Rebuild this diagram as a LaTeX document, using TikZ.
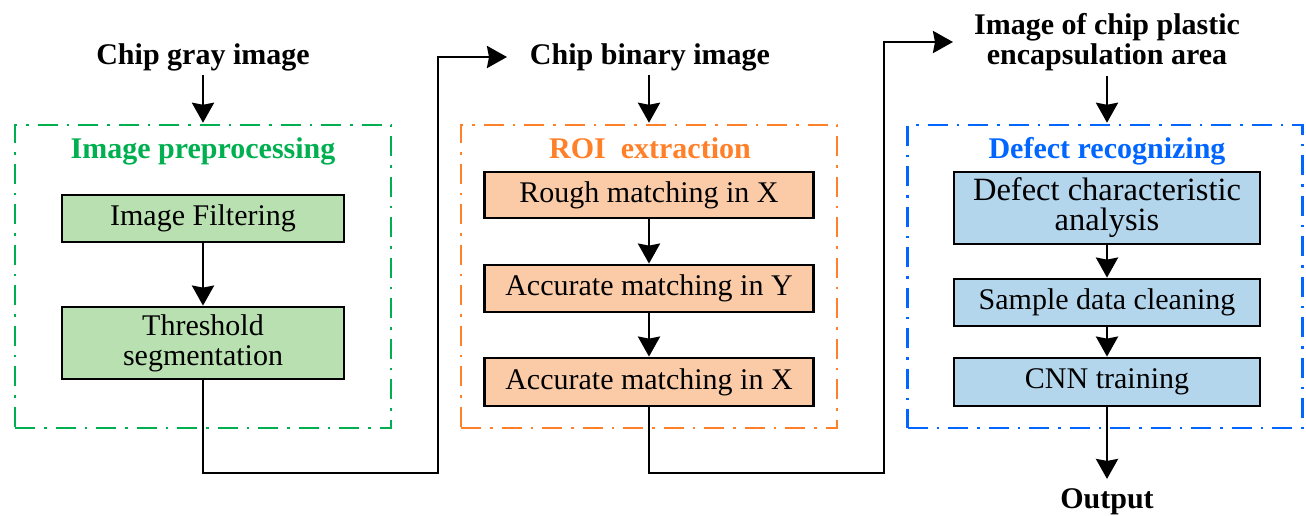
\documentclass[tikz,border=0pt]{standalone}
\usepackage{fontspec}
\setmainfont{Liberation Serif}
\usetikzlibrary{arrows.meta}

\definecolor{grnline}{RGB}{0,176,80}
\definecolor{grnfill}{RGB}{185,224,176}
\definecolor{orgline}{RGB}{255,128,40}
\definecolor{orgfill}{RGB}{251,203,167}
\definecolor{bluline}{RGB}{0,102,255}
\definecolor{blufill}{RGB}{180,214,237}

\begin{document}
\begin{tikzpicture}[x=1pt,y=-1pt,
  stepbox/.style={draw=black, line width=2.8pt, inner sep=0pt, align=center,
    font=\fontsize{30}{30}\selectfont},
  frame/.style={line width=2.5pt, inner sep=0pt,
    dash pattern=on 20pt off 9pt on 2.5pt off 9pt},
  title/.style={inner sep=0pt, anchor=base, font=\bfseries\fontsize{30}{30}\selectfont},
  label/.style={inner sep=0pt, anchor=base, align=center,
    font=\bfseries\fontsize{30}{30}\selectfont},
  flow/.style={line width=2.8pt, -{Stealth[length=20pt,width=22pt,inset=2pt]}}
]
\useasboundingbox (0,0) rectangle (1306,515);

% ---------- input labels ----------
\node[label] (gray) at (203,64) {Chip gray image};
\node[label] (bin) at (650,64) {Chip binary image};
\node[label] (enc) at (1107,64) {Image of chip plastic\\encapsulation area};

% ---------- stage frames ----------
\node[frame, draw=grnline, minimum width=376pt, minimum height=303pt] (f1) at (203,276.5) {};
\node[frame, draw=orgline, minimum width=376pt, minimum height=303pt] (f2) at (649,276.5) {};
\node[frame, draw=bluline, minimum width=395pt, minimum height=303pt] (f3) at (1105,276.5) {};

\node[title, text=grnline] (t1) at (203,158) {Image preprocessing};
\node[title, text=orgline] (t2) at (650,158) {ROI\ \ extraction};
\node[title, text=bluline] (t3) at (1107,158) {Defect recognizing};

% ---------- preprocessing steps ----------
\node[stepbox, fill=grnfill, minimum width=282pt, minimum height=47pt] (filt) at (203,218.5) {Image Filtering};
\node[stepbox, fill=grnfill, minimum width=282pt, minimum height=72pt] (thr) at (203,343) {Threshold\\segmentation};

% ---------- ROI steps ----------
\node[stepbox, fill=orgfill, minimum width=329pt, minimum height=46pt] (rx) at (649,195) {Rough matching in X};
\node[stepbox, fill=orgfill, minimum width=329pt, minimum height=47pt] (ay) at (649,288.5) {Accurate matching in Y};
\node[stepbox, fill=orgfill, minimum width=329pt, minimum height=48pt] (ax) at (649,382) {Accurate matching in X};

% ---------- recognition steps ----------
\node[stepbox, fill=blufill, minimum width=306pt, minimum height=72pt,
  font=\fontsize{32.5}{30}\selectfont] (dca) at (1107,208) {Defect characteristic\\analysis};
\node[stepbox, fill=blufill, minimum width=306pt, minimum height=47pt] (sdc) at (1107,302.5) {Sample data cleaning};
\node[stepbox, fill=blufill, minimum width=306pt, minimum height=48pt] (cnn) at (1107,382) {CNN training};

\node[label] (out) at (1107,508) {Output};

% ---------- connectors ----------
\draw[flow, shorten <=4pt, shorten >=1pt] (gray.south) -- (f1.north);
\draw[flow, shorten <=4pt, shorten >=1pt] (bin.south -| f2.north) -- (f2.north);
\draw[flow, shorten <=5pt, shorten >=1pt] (enc.south) -- (enc.south |- f3.north);

\draw[flow] (filt) -- (thr);
\draw[flow] (rx) -- (ay);
\draw[flow] (ay) -- (ax);
\draw[flow] (dca) -- (sdc);
\draw[flow] (sdc) -- (cnn);

\coordinate (b1) at (438,473);
\coordinate (e1) at (507,57);
\draw[flow] (thr.south) |- (b1) |- (e1);

\coordinate (b2) at (884,473);
\coordinate (e2) at (953,42);
\draw[flow] (ax.south) |- (b2) |- (e2);

\draw[flow, shorten >=9pt] (cnn.south) -- (out.north);
\end{tikzpicture}
\end{document}
